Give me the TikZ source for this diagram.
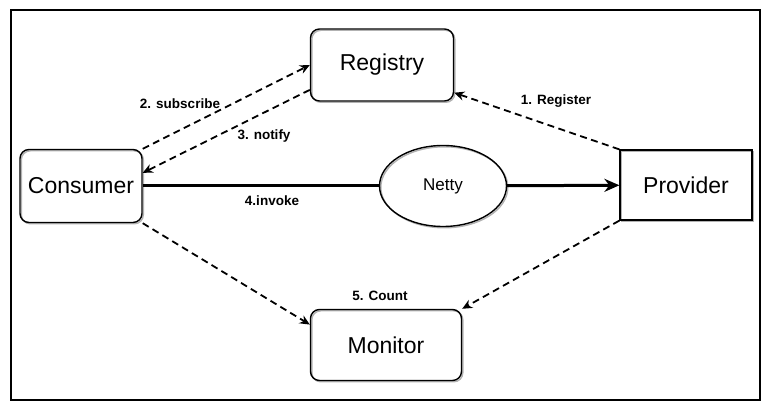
\documentclass[tikz,border=0pt]{standalone}
\usepackage{fontspec}
\setmainfont{Liberation Sans}
\usetikzlibrary{arrows.meta,shapes.geometric}

\begin{document}
\begin{tikzpicture}[x=1pt,y=-1pt,->,>={Stealth[length=10pt,width=9pt]},
    shadow line/.style={preaction={draw=black!30,line width=1.4pt,transform canvas={xshift=1.3pt,yshift=-1.3pt}}},
    main node/.style={draw,shadow line,line width=1.4pt,font=\fontsize{23}{27}\selectfont},
    round node/.style={main node,rounded corners=9pt},
    netty node/.style={main node,ellipse,inner sep=0pt,font=\fontsize{17}{20}\selectfont},
    step label/.style={font=\bfseries\fontsize{13.5}{16}\selectfont,inner sep=1pt},
    call edge/.style={line width=1.8pt,dash pattern=on 7pt off 4.5pt}]
                        \useasboundingbox (0,0) rectangle (771,411);
                        \draw[-,line width=1.8pt] (11,10) rectangle (760,400);

                        \node[round node,minimum width=143pt,minimum height=72pt] (registry) at (382,65) {Registry};
                        \node[round node,minimum width=122pt,minimum height=73pt] (consumer) at (81,186) {Consumer};
                        \node[main node,line width=1.2pt,minimum width=132pt,minimum height=70pt] (provider) at (686,185) {Provider};
                        \node[round node,minimum width=151pt,minimum height=71pt] (monitor) at (386,345) {Monitor};
                        \node[netty node,minimum width=127pt,minimum height=81pt] (netty) at (443,186) {Netty};

                        \node[step label] (register) at (556,101) {1. Register};
                        \node[step label] (subscribe) at (180,104) {2. subscribe};
                        \node[step label] (notify) at (264,136) {3. notify};
                        \node[step label] (invoke) at (272,201) {4.invoke};
                        \node[step label] (count) at (380,296) {5. Count};

                        \path[call edge]
                            (provider.north west) edge (registry.-21)
                            (consumer.north east) edge (registry.west)
                            (registry.199) edge (consumer.12)
                            (consumer.south east) edge (monitor.165)
                            (provider.south west) edge (monitor.north east)
                        ;

                        \draw[-,line width=3pt] (consumer) -- (netty);
                        \draw[line width=3pt,-{Stealth[length=15pt,width=13pt]}] (netty) -- (provider);

                    \end{tikzpicture}
\end{document}
